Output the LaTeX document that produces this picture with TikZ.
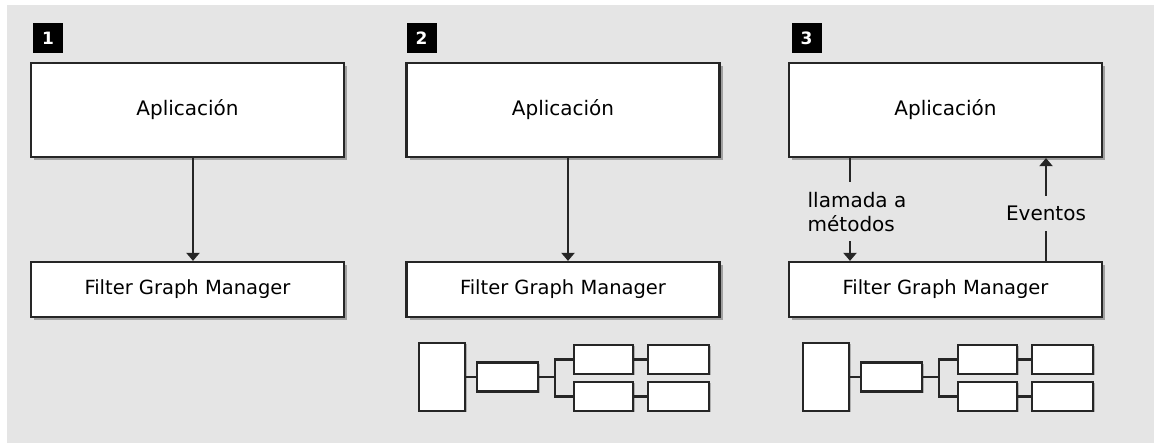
\documentclass[tikz,border=0pt]{standalone}
\usepackage{fontspec}
\setmainfont{DejaVu Sans}
\usetikzlibrary{arrows.meta,shadows}
\definecolor{panelgray}{HTML}{E5E5E5}
\definecolor{edgegray}{HTML}{262626}

\begin{document}
\begin{tikzpicture}
  [x=1pt,y=-1pt,
   box/.style={draw=edgegray,line width=2.2pt,fill=white,inner sep=0pt,
     drop shadow={shadow xshift=3pt,shadow yshift=-3pt,fill=black!55,opacity=.6}},
   app/.style={box,minimum width=313pt,minimum height=94pt,font=\fontsize{20}{24}\selectfont},
   fgm/.style={box,minimum width=313pt,minimum height=55pt,font=\fontsize{19.5}{24}\selectfont},
   num/.style={fill=black,text=white,minimum size=30pt,inner sep=0pt,font=\fontsize{17}{17}\selectfont\bfseries},
   flt/.style={draw=edgegray,line width=2.2pt,fill=white,inner sep=0pt,
     drop shadow={shadow xshift=1.5pt,shadow yshift=-1.5pt,fill=black!45,opacity=.6}},
   wire/.style={draw=edgegray,line width=2.2pt},
   flow/.style={draw=edgegray,line width=2.2pt,-{Triangle[width=13pt,length=8pt]}},
   lbl/.style={fill=panelgray,inner xsep=1pt,inner ysep=10pt,font=\fontsize{20}{24}\selectfont}]

  \useasboundingbox (0,0) rectangle (1154,443);
  \fill[panelgray] (7,5) rectangle (1154,443);

  % panel 1
  \node[num] (a-num) at (48,38) {1};
  \node[app] (a-app) at (187.5,110) {Aplicación};
  \node[fgm] (a-fgm) at (187.5,289.5) {Filter Graph Manager};
  \draw[flow] ([xshift=5.5pt]a-app.south) -- ([xshift=5.5pt]a-fgm.north);

  % panel 2
  \node[num] (b-num) at (421.5,38) {2};
  \node[app] (b-app) at (563,110) {Aplicación};
  \node[fgm] (b-fgm) at (563,289.5) {Filter Graph Manager};
  \draw[flow] ([xshift=5pt]b-app.south) -- ([xshift=5pt]b-fgm.north);

  % panel 3
  \node[num] (c-num) at (806.5,38) {3};
  \node[app] (c-app) at (945.5,110) {Aplicación};
  \node[fgm] (c-fgm) at (945.5,289.5) {Filter Graph Manager};
  \draw[flow] ([xshift=-95.5pt]c-app.south) --
    node[lbl,pos=.52,xshift=7pt,align=left] (c-call) {llamada a\\métodos}
    ([xshift=-95.5pt]c-fgm.north);
  \draw[flow] ([xshift=100.5pt]c-fgm.north) --
    node[lbl,pos=.46] (c-evt) {Eventos}
    ([xshift=100.5pt]c-app.south);

  % filter graphs under panels 2 and 3
  \foreach \p/\dx in {b/0,c/384} {
    \node[flt,minimum width=46pt,minimum height=68pt] (\p-src) at (442+\dx,377) {};
    \node[flt,minimum width=61pt,minimum height=29pt] (\p-dec) at (507.5+\dx,377) {};
    \node[flt,minimum width=59pt,minimum height=29pt] (\p-up1) at (603.5+\dx,359.5) {};
    \node[flt,minimum width=59pt,minimum height=29pt] (\p-lo1) at (603.5+\dx,396.5) {};
    \node[flt,minimum width=61pt,minimum height=29pt] (\p-up2) at (678.5+\dx,359.5) {};
    \node[flt,minimum width=61pt,minimum height=29pt] (\p-lo2) at (678.5+\dx,396.5) {};

    \draw[wire] (\p-src) -- (\p-dec);
    \draw[wire] (\p-dec.east) -- ++(16,0) coordinate (\p-fork);
    \draw[wire] (\p-fork) |- (\p-up1);
    \draw[wire] (\p-fork) |- (\p-lo1);
    \draw[wire] (\p-up1) -- (\p-up2);
    \draw[wire] (\p-lo1) -- (\p-lo2);
  }

\end{tikzpicture}
\end{document}
